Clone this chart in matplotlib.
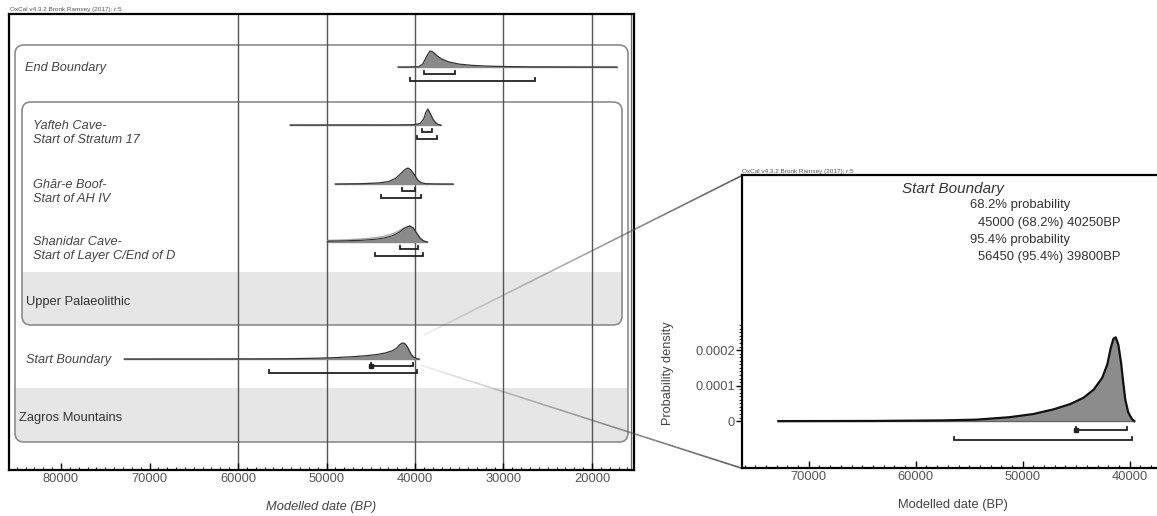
import numpy as np
import matplotlib
matplotlib.use('Agg')
import matplotlib.pyplot as plt
from matplotlib.patches import FancyBboxPatch, Rectangle
from matplotlib.collections import LineCollection
from matplotlib.ticker import MultipleLocator, FixedLocator

plt.rcParams['font.family'] = ['Liberation Sans', 'DejaVu Sans']

W, H = 1157, 516

# ---- values ----
row_labels = ['End Boundary', 'Yafteh Cave-\nStart of Stratum 17', 'Ghār-e Boof-\nStart of AH IV',
              'Shanidar Cave-\nStart of Layer C/End of D', 'Start Boundary']

end_dates = [41900, 39600, 39100, 38700, 38300, 38000, 37500, 37000, 36200, 35000, 33500, 32000, 30000, 27000, 22000, 17200]
end_dens = [0, 0.01, 0.2, 0.65, 1.0, 0.95, 0.7, 0.5, 0.32, 0.18, 0.1, 0.06, 0.03, 0.01, 0.003, 0]

yafteh_dates = [54100, 42000, 40000, 39400, 39000, 38800, 38550, 38300, 38000, 37700, 37400, 37100]
yafteh_dens = [0, 0.005, 0.02, 0.1, 0.4, 0.75, 1.0, 0.75, 0.4, 0.15, 0.04, 0]

boof_dates = [49000, 46000, 44000, 43000, 42200, 41600, 41100, 40800, 40500, 40100, 39700, 39300, 38800, 37500, 35700]
boof_dens = [0, 0.02, 0.07, 0.15, 0.35, 0.65, 0.92, 1.0, 0.9, 0.6, 0.25, 0.08, 0.02, 0.003, 0]

shan_dates = [49900, 49800, 48000, 46000, 44500, 43500, 42600, 41800, 41200, 40600, 40200, 39800, 39400, 39000, 38600]
shan_dens = [0, 0.05, 0.07, 0.11, 0.17, 0.25, 0.38, 0.6, 0.85, 1.0, 0.88, 0.55, 0.22, 0.06, 0]
shan_unmod = [0, 0.1, 0.13, 0.19, 0.27, 0.36, 0.5, 0.7, 0.9, 1.0, 0.85, 0.5, 0.2, 0.05, 0]

start_dates = [72840, 63850, 57540, 54400, 51230, 49000, 47130, 45550, 44300, 43350, 42560,
               42080, 41770, 41510, 41300, 41050, 40800, 40600, 40400, 40130, 39810, 39560]
start_dens = [0, 0.5e-6, 2e-6, 4e-6, 11e-6, 20e-6, 33e-6, 48e-6, 66e-6, 89e-6, 122e-6,
              160e-6, 205e-6, 232e-6, 236e-6, 215e-6, 165e-6, 110e-6, 60e-6, 25e-6, 7e-6, 0]

# 68.2% and 95.4% ranges (BP)
ranges_68 = [(39000, 35500), (39200, 38100), (41470, 40000), (41700, 39700), (45000, 40250)]
ranges_95 = [(40560, 26440), (39800, 37500), (43800, 39300), (44500, 39100), (56450, 39800)]

header = 'OxCal v4.3.2 Bronk Ramsey (2017); r:5'
stats_text = ['68.2% probability', '45000 (68.2%) 40250BP', '95.4% probability', '56450 (95.4%) 39800BP']

# ---- layout (pixels) ----
row_y = [67, 125, 184, 242, 359]
label_y = [68, 133, 192, 249, 360]
label_x = [25, 33, 33, 33, 26]
peak_h = 16

fig = plt.figure(figsize=(W / 100, H / 100), dpi=100)
fig.patch.set_facecolor('white')

# background layer in pixel coords: group boxes and bands
bg = fig.add_axes([0, 0, 1, 1], zorder=0)
bg.set_xlim(0, W)
bg.set_ylim(H, 0)
bg.axis('off')

box_ec = '#8c8c8c'
outer = FancyBboxPatch((15, 45), 613, 397, boxstyle='round,pad=0,rounding_size=9', fc='white', ec='none')
inner = FancyBboxPatch((22, 102), 600, 223, boxstyle='round,pad=0,rounding_size=9', fc='white', ec='none')
bg.add_patch(outer)
band1 = Rectangle((15, 388), 613, 54, fc='#e6e6e6', ec='none')
bg.add_patch(band1)
band1.set_clip_path(outer)
bg.add_patch(inner)
band2 = Rectangle((22, 272), 600, 53, fc='#e6e6e6', ec='none')
bg.add_patch(band2)
band2.set_clip_path(inner)
for b in [(15, 45, 613, 397), (22, 102, 600, 223)]:
    bg.add_patch(FancyBboxPatch(b[:2], b[2], b[3], boxstyle='round,pad=0,rounding_size=9',
                                fc='none', ec=box_ec, lw=1.2))
bg.plot([631, 631], [14, 470], color='#666', lw=0.9)

bg.text(26, 302, 'Upper Palaeolithic', fontsize=9.3, color='#333', va='center')
bg.text(19, 418, 'Zagros Mountains', fontsize=9.3, color='#333', va='center')
for lab, x, y in zip(row_labels, label_x, label_y):
    bg.text(x, y, lab, fontsize=9.2, style='italic', color='#444', va='center', linespacing=1.25)

bg.text(10, 10, header, fontsize=4.6, color='#555', va='center')
bg.text(742, 171, header, fontsize=4.6, color='#555', va='center')
bg.text(321, 507, 'Modelled date (BP)', fontsize=9.3, style='italic', color='#444', ha='center', va='center')
bg.text(953, 505, 'Modelled date (BP)', fontsize=9.3, color='#444', ha='center', va='center')
bg.text(668, 373, 'Probability density', fontsize=9.2, color='#444', ha='center', va='center', rotation=90)
bg.text(902, 189, 'Start Boundary', fontsize=11, style='italic', color='#333', va='center')
for s, x, y in zip(stats_text, [970, 978, 970, 978], [205, 223, 240, 257]):
    bg.text(x, y, s, fontsize=9.4, color='#333', va='center')


def bracket(ax, d1, d2, y, tick, dot=False):
    ax.plot([d1, d1, d2, d2], [y + tick, y, y, y + tick], color='#222', lw=1.3, solid_joinstyle='miter')
    if dot:
        ax.plot([d1], [y], marker='s', ms=3.5, color='#222')


# ---- left panel ----
ax = fig.add_axes([9 / W, (H - 470) / H, 625 / W, 456 / H], zorder=1)
ax.patch.set_alpha(0)
ax.set_xlim(85876, 15254)
ax.set_ylim(470, 14)
for sp in ax.spines.values():
    sp.set_linewidth(1.6)
for d in [60000, 50000, 40000, 30000, 20000]:
    ax.axvline(d, color='#555', lw=1.0, zorder=1)

curves = [(end_dates, end_dens), (yafteh_dates, yafteh_dens), (boof_dates, boof_dens),
          (shan_dates, shan_dens), (start_dates, np.array(start_dens) / max(start_dens))]
for i, (dts, dens) in enumerate(curves):
    y0 = row_y[i]
    ax.plot([dts[0], dts[-1]], [y0, y0], color='#888', lw=1.0, zorder=2)
    yy = y0 - np.array(dens) * peak_h
    if i == 3:
        ax.plot(dts, y0 - np.array(shan_unmod) * peak_h, color='#aaa', lw=1.0, zorder=3)
    ax.fill_between(dts, y0, yy, color='#8a8a8a', lw=0, zorder=3)
    ax.plot(dts, yy, color='#333', lw=0.9, zorder=4)
    bracket(ax, *ranges_68[i], y0 + 7, -3, dot=(i == 4))
    bracket(ax, *ranges_95[i], y0 + 14, -3)

ax.xaxis.set_major_locator(MultipleLocator(10000))
ax.xaxis.set_minor_locator(MultipleLocator(1000))
ax.tick_params(axis='x', which='major', direction='in', length=5, width=1, pad=2,
               labelsize=9.3, labelcolor='#555')
ax.tick_params(axis='x', which='minor', direction='in', length=2.5, width=0.8)
ax.set_yticks([])

# ---- right panel ----
ax2 = fig.add_axes([742 / W, (H - 468) / H, 420 / W, 293 / H], zorder=1)
ax2.patch.set_alpha(0)
ax2.set_xlim(76246, 36970)
ax2.set_ylim(-0.000132, 0.000693)
ax2.spines['right'].set_visible(False)
for sp in ['left', 'top', 'bottom']:
    ax2.spines[sp].set_linewidth(1.6)
ax2.plot([start_dates[0], start_dates[-1]], [0, 0], color='#666', lw=1.0)
ax2.fill_between(start_dates, 0, start_dens, color='#8c8c8c', lw=0)
ax2.plot(start_dates, start_dens, color='#111', lw=1.6)
bracket(ax2, *ranges_68[4], -0.0000254, 0.0000085, dot=True)
bracket(ax2, *ranges_95[4], -0.0000535, 0.0000085)

ax2.xaxis.set_major_locator(MultipleLocator(10000))
ax2.xaxis.set_minor_locator(MultipleLocator(1000))
ax2.tick_params(axis='x', which='major', direction='in', length=5, width=1, pad=2,
                labelsize=9.3, labelcolor='#555')
ax2.tick_params(axis='x', which='minor', direction='in', length=2.5, width=0.8)
ax2.set_yticks([0, 0.0001, 0.0002])
ax2.set_yticklabels(['0', '0.0001', '0.0002'])
ax2.yaxis.set_minor_locator(FixedLocator(np.arange(0, 0.000275, 0.00001)))
ax2.tick_params(axis='y', which='major', direction='out', length=4, width=1, pad=1,
                labelsize=9.3, labelcolor='#555')
ax2.tick_params(axis='y', which='minor', direction='out', length=2, width=0.6)

# ---- zoom connector lines ----
ov = fig.add_axes([0, 0, 1, 1], zorder=5)
ov.set_xlim(0, W)
ov.set_ylim(H, 0)
ov.axis('off')
ov.patch.set_alpha(0)
for p0, p1 in [((424, 335), (741, 176)), ((420, 365), (741, 468))]:
    t = np.linspace(0, 1, 31)
    xs = p0[0] + (p1[0] - p0[0]) * t
    ys = p0[1] + (p1[1] - p0[1]) * t
    segs = [[(xs[k], ys[k]), (xs[k + 1], ys[k + 1])] for k in range(30)]
    cols = [(0.3, 0.3, 0.3, a) for a in np.linspace(0.1, 0.9, 30)]
    ov.add_collection(LineCollection(segs, colors=cols, linewidths=1.2))

fig.savefig('out.png', dpi=100)
